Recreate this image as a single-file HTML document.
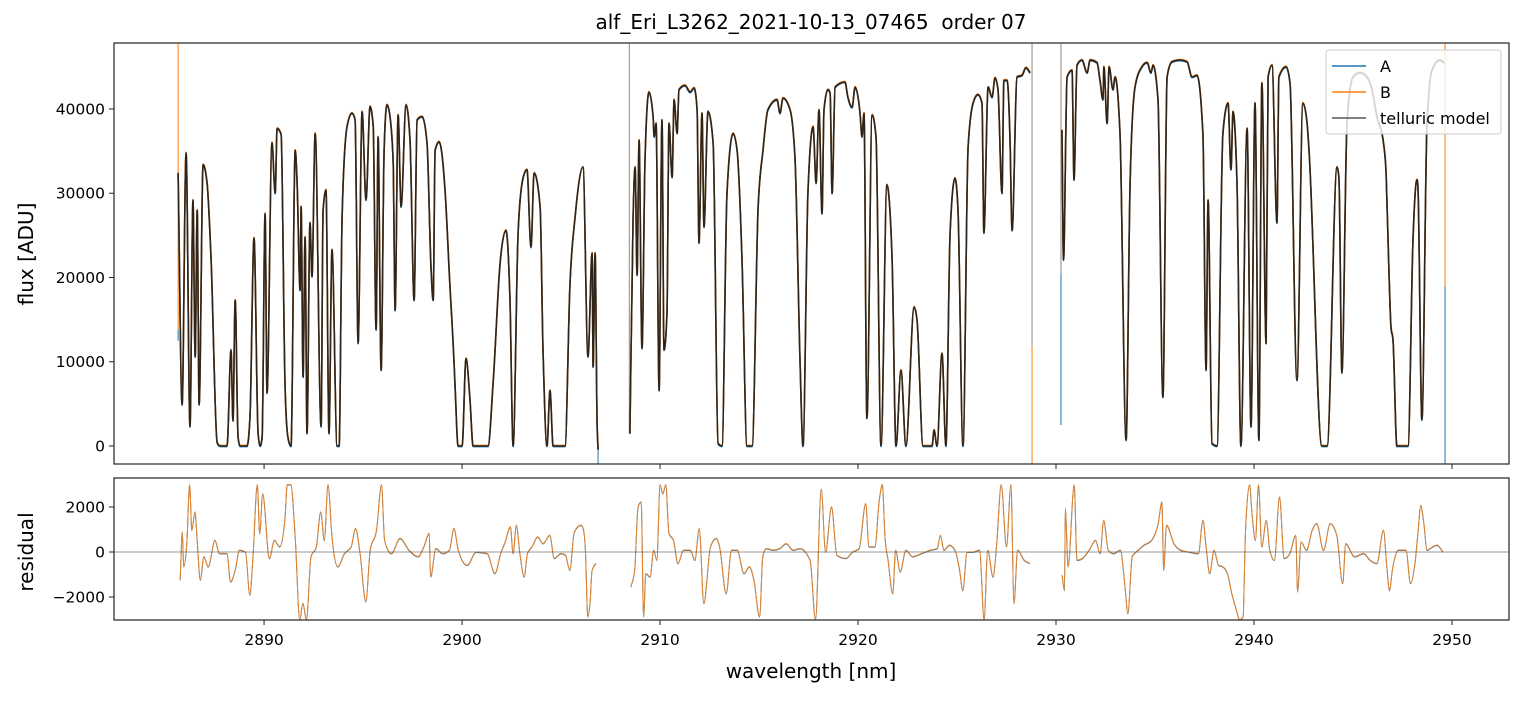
<!DOCTYPE html>
<html><head><meta charset="utf-8"><style>
body{margin:0;background:#fff;}
svg text{font-family:"DejaVu Sans","Liberation Sans",sans-serif;white-space:pre;fill:#000;}
</style></head><body>
<svg id="chart" width="1523" height="696" xmlns="http://www.w3.org/2000/svg">
<defs>
<clipPath id="clipTop"><rect x="114" y="43" width="1395" height="421"/></clipPath>
<clipPath id="clipBot"><rect x="114" y="478" width="1395" height="142"/></clipPath>
</defs>
<rect width="1523" height="696" fill="#fff"/>
<text x="811" y="29" font-size="20" text-anchor="middle" xml:space="preserve">alf_Eri_L3262_2021-10-13_07465  order 07</text>
<g id="topPlot"></g>
<g id="botPlot"></g>
<text transform="translate(33,254) rotate(-90)" font-size="20" text-anchor="middle">flux [ADU]</text>
<text transform="translate(33,552) rotate(-90)" font-size="20" text-anchor="middle">residual</text>
<text x="811" y="678" font-size="20" text-anchor="middle">wavelength [nm]</text>
<g>
<rect x="1326" y="50" width="175" height="84" rx="3" fill="#fff" fill-opacity="0.8" stroke="#ccc"/>
<g><line x1="1332" y1="66" x2="1366" y2="66" stroke="#1f77b4" stroke-width="1.5"/><text x="1380" y="72" font-size="16">A</text></g>
<g><line x1="1332" y1="92" x2="1366" y2="92" stroke="#ff7f0e" stroke-width="1.5"/><text x="1380" y="98" font-size="16">B</text></g>
<g><line x1="1332" y1="118" x2="1366" y2="118" stroke="#555" stroke-width="1.5"/><text x="1380" y="124" font-size="16">telluric model</text></g>
</g>
</svg>
<script>
const wl=[2885.66,2885.86,2886.06,2886.26,2886.41,2886.52,2886.62,2886.72,2886.92,2887.12,2887.32,2887.63,2887.78,2888.13,2888.33,2888.43,2888.54,2888.69,2888.79,2889.14,2889.29,2889.49,2889.70,2889.80,2889.90,2890.05,2890.15,2890.40,2890.56,2890.66,2890.86,2891.06,2891.21,2891.36,2891.57,2891.67,2891.82,2891.87,2891.97,2892.07,2892.17,2892.32,2892.42,2892.58,2892.88,2892.98,2893.13,2893.28,2893.43,2893.69,2893.79,2893.94,2894.19,2894.44,2894.60,2894.75,2894.95,2895.15,2895.35,2895.51,2895.66,2895.76,2895.91,2896.06,2896.21,2896.36,2896.52,2896.62,2896.77,2896.92,2897.17,2897.37,2897.58,2897.73,2897.98,2898.23,2898.43,2898.54,2898.64,2898.84,2899.14,2899.39,2899.55,2899.65,2899.80,2900.00,2900.20,2900.40,2900.56,2901.31,2901.57,2901.92,2902.22,2902.42,2902.58,2902.83,2903.08,2903.28,2903.48,2903.64,2903.94,2904.09,2904.29,2904.44,2904.60,2905.20,2905.45,2905.71,2906.11,2906.36,2906.57,2906.62,2906.72,2906.82,2906.87,null,
2908.48,2908.64,2908.74,2908.84,2908.94,2909.09,2909.24,2909.44,2909.65,2909.70,2909.80,2909.95,2910.10,2910.20,2910.35,2910.45,2910.61,2910.71,2910.86,2910.96,2911.26,2911.52,2911.72,2911.87,2911.97,2912.12,2912.22,2912.42,2912.68,2912.93,2913.13,2913.38,2913.69,2913.89,2914.14,2914.39,2914.65,2914.95,2915.20,2915.45,2915.91,2916.06,2916.21,2916.57,2916.82,2917.07,2917.22,2917.47,2917.73,2917.88,2918.03,2918.18,2918.28,2918.48,2918.59,2918.69,2918.84,2919.34,2919.49,2919.70,2919.85,2920.10,2920.20,2920.30,2920.45,2920.71,2920.91,2921.16,2921.46,2921.72,2921.92,2922.17,2922.42,2922.83,2922.98,2923.28,2923.74,2923.84,2923.99,2924.24,2924.44,2924.65,2924.90,2925.05,2925.30,2925.56,2925.81,2926.06,2926.26,2926.36,2926.57,2926.77,2926.92,2927.07,2927.27,2927.37,2927.53,2927.68,2927.78,2928.03,2928.28,2928.48,2928.69,null,
2930.30,2930.38,2930.56,2930.81,2930.91,2931.06,2931.31,2931.57,2931.72,2932.07,2932.22,2932.37,2932.42,2932.58,2932.68,2932.88,2932.98,2933.23,2933.54,2933.74,2933.99,2934.34,2934.60,2934.80,2934.90,2935.15,2935.40,2935.61,2935.86,2936.26,2936.62,2936.87,2937.12,2937.42,2937.58,2937.68,2937.88,2938.13,2938.43,2938.69,2938.84,2938.94,2939.14,2939.34,2939.65,2939.85,2940.05,2940.25,2940.40,2940.61,2940.71,2940.91,2941.16,2941.26,2941.62,2941.82,2942.17,2942.47,2942.68,2942.78,2943.43,2943.69,2944.19,2944.29,2944.44,2944.70,2945.00,2945.35,2945.71,2945.96,2946.21,2946.52,2946.67,2946.82,2946.92,2947.02,2947.22,2947.78,2948.03,2948.23,2948.28,2948.48,2948.74,2948.99,2949.39,2949.60];
const flux=[32400,4900,34800,2300,29200,10600,28000,4900,33400,31200,22400,400,0,0,11400,3000,17300,1000,0,0,3500,24700,1500,0,1000,27600,6300,36000,30000,37700,37000,7000,1000,0,35100,31200,18500,28400,8200,24800,1500,26500,20100,37100,2300,28000,30400,1500,23300,0,0,27200,37900,39500,38700,12200,39700,29200,40300,38000,13800,36700,9000,35000,40500,39100,33600,16100,39300,28400,40500,36300,17300,38700,39100,36000,21200,17300,35100,36100,30400,18900,12200,7000,0,0,10400,5500,0,0,7500,21700,25600,17300,0,25300,31800,32800,23600,32400,28400,11400,0,6600,0,0,19300,27200,33100,10600,22900,9400,22900,2700,-400,null,
1500,27200,33100,20300,36300,11600,33900,42000,39100,36700,38300,6600,38700,11400,15800,38300,31900,41100,37100,42300,42800,42000,42500,39900,24100,39500,26000,39700,36000,300,0,30000,37100,35100,22100,0,0,28000,35100,39900,41100,39500,41300,39900,33900,10200,0,30000,37900,31200,39900,27600,39900,42300,41900,30000,42600,43200,41400,40200,42600,39500,36700,39500,3300,39300,36700,0,31000,22100,0,9000,0,16500,15000,0,0,1900,0,11000,0,25300,31800,28000,0,35500,40700,41700,40700,25300,42600,41400,43700,42300,30000,43400,43400,36000,25600,43800,44000,44900,44300,null,
37500,22100,43800,44600,31600,45200,45800,44300,45800,45500,43400,41100,45000,38300,45000,42300,43800,37100,700,31200,42600,45000,45500,44300,45200,41100,5800,43800,45600,45800,45600,43800,44000,37100,9000,29200,300,0,37100,40700,32800,39700,31200,0,37700,2300,40700,700,43100,12200,43800,45200,26500,43800,45000,43100,7800,40700,38300,35100,0,0,33100,31900,8700,38300,43800,44300,43800,42300,39100,36300,32400,20500,14100,12600,0,0,24500,31600,30800,3100,38300,44600,45800,45500];
const residWl=[2885.76,2885.87,2885.94,2886.10,2886.24,2886.35,2886.51,2886.62,2886.78,2886.96,2887.18,2887.52,2887.75,2888.13,2888.31,2888.54,2888.76,2889.06,2889.28,2889.44,2889.66,2889.78,2889.93,2890.27,2890.52,2890.79,2891.06,2891.17,2891.35,2891.58,2891.80,2891.96,2892.14,2892.37,2892.64,2892.86,2893.04,2893.23,2893.43,2893.72,2894.06,2894.40,2894.62,2894.85,2895.14,2895.36,2895.68,2895.93,2896.09,2896.43,2896.87,2897.32,2897.78,2898.07,2898.34,2898.41,2898.68,2899.02,2899.36,2899.59,2899.81,2900.26,2900.71,2901.27,2901.66,2901.95,2902.18,2902.44,2902.58,2902.74,2902.92,2903.14,2903.30,2903.53,2903.82,2904.09,2904.43,2904.66,2904.99,2905.22,2905.44,2905.67,2906.01,2906.12,2906.23,2906.35,2906.46,2906.57,2906.75,null,
2908.53,2908.72,2908.89,2909.05,2909.17,2909.28,2909.50,2909.68,2909.84,2910.00,2910.14,2910.29,2910.45,2910.68,2910.90,2911.19,2911.53,2911.76,2911.98,2912.21,2912.55,2912.84,2913.01,2913.34,2913.61,2913.90,2914.24,2914.51,2914.74,2915.03,2915.19,2915.37,2915.71,2916.04,2916.38,2916.72,2917.06,2917.58,2917.85,2918.14,2918.36,2918.66,2918.93,2919.38,2919.72,2920.05,2920.39,2920.55,2920.85,2921.07,2921.23,2921.36,2921.52,2921.75,2921.90,2922.13,2922.42,2922.76,2923.21,2923.66,2924.00,2924.16,2924.34,2924.61,2924.90,2925.13,2925.29,2925.51,2925.80,2926.14,2926.37,2926.55,2926.82,2927.00,2927.23,2927.50,2927.72,2927.88,2928.06,2928.40,2928.67,null,
2930.31,2930.43,2930.47,2930.61,2930.92,2931.06,2931.33,2931.67,2932.00,2932.23,2932.41,2932.64,2932.91,2933.25,2933.47,2933.63,2933.85,2934.15,2934.44,2934.83,2935.16,2935.35,2935.44,2935.58,2935.96,2936.30,2936.75,2937.19,2937.42,2937.58,2937.76,2937.98,2938.21,2938.43,2938.66,2938.88,2939.11,2939.27,2939.45,2939.56,2939.78,2939.90,2940.07,2940.23,2940.39,2940.62,2940.80,2941.03,2941.29,2941.52,2941.81,2942.11,2942.20,2942.38,2942.65,2942.94,2943.17,2943.51,2943.85,2944.18,2944.48,2944.63,2945.08,2945.54,2945.87,2946.21,2946.54,2946.71,2946.84,2947.00,2947.29,2947.68,2947.90,2948.13,2948.28,2948.42,2948.58,2948.74,2949.03,2949.25,2949.55];
const resid=[-1240,900,-650,460,3000,980,1790,530,-1240,-200,-650,530,-60,-60,-1320,-800,90,0,-1900,-200,3000,830,2600,-280,530,240,1570,3000,3000,530,-3000,-2280,-3000,-200,240,1790,530,3000,680,-650,-60,240,1050,-60,-2200,90,980,3000,530,-60,610,90,-200,240,830,-1100,160,-60,90,1050,90,-580,0,-60,-950,-60,460,1120,-60,1200,-60,-1100,-60,240,680,380,750,-280,-60,-130,-800,900,1200,1050,90,-2870,-2280,-800,-500,null,
-1540,-800,2010,2230,-2870,-950,-1100,90,-360,3000,2600,3000,830,530,-500,90,90,-360,1050,-2280,240,610,240,-1840,90,90,-950,-650,-1240,-2870,-200,160,90,160,380,90,160,-360,-3000,2800,0,2010,-130,-280,0,160,2160,240,240,2300,3000,680,-360,-1840,90,-870,90,-200,-60,90,160,750,90,310,90,-800,-1700,0,0,90,-3000,90,-1100,310,3000,240,3000,-2280,90,-360,-500,null,
-1020,-1700,1940,-650,3000,-360,-280,90,530,-60,1420,90,-60,90,-1390,-2720,-200,90,310,530,1270,2230,-800,1200,380,90,0,-60,1420,240,-950,90,-580,-650,-950,-1840,-2570,-3000,-2870,680,3000,1720,530,3000,240,1420,90,-360,2460,-280,-60,750,-1760,460,90,980,1270,90,1270,750,-1390,380,-200,-60,-360,-500,980,-650,-1700,-720,90,90,-1390,-500,830,2080,1270,90,240,310,0];
// isolated vertical features: wavelength, top flux, bottom flux, series
const spikeWl=[2885.66,2885.66,2906.87,2908.45,2928.79,2928.79,2930.25,2930.25,2949.65,2949.65];
const spikeTop=[47830,13800,-400,47830,47830,11800,47830,20500,47830,18900];
const spikeBot=[13800,12500,-2136,1500,11800,-2136,20500,2500,18900,-2136];
const spikeSeries=['B','A','A','M','M','B','M','A','B','A'];
const xTicks=[2890,2900,2910,2920,2930,2940,2950];
const yTicksTop=[0,10000,20000,30000,40000];
const yTicksBot=[-2000,0,2000];

const NS='http://www.w3.org/2000/svg';
const L=114,R=1509,T1=43,B1=464,T2=478,B2=620;
const X0=2882.42,X1=2952.88,Y0=-2136,Y1=47830,R0=-3022,R1=3289;
const sx=w=>L+(w-X0)/(X1-X0)*(R-L);
const sy=v=>B1-(v-Y0)/(Y1-Y0)*(B1-T1);
const sr=v=>B2-(v-R0)/(R1-R0)*(B2-T2);
function mk(tag,attrs,parent){const e=document.createElementNS(NS,tag);for(const k in attrs)e.setAttribute(k,attrs[k]);parent.appendChild(e);return e;}
function seg(pts){
 const n=pts.length;if(n<2)return '';
 const m=new Array(n).fill(0);
 const s=[];for(let i=0;i<n-1;i++){const h=pts[i+1][0]-pts[i][0];s.push(h?(pts[i+1][1]-pts[i][1])/h:0);}
 m[0]=s[0];m[n-1]=s[n-2];
 for(let i=1;i<n-1;i++){const h0=pts[i][0]-pts[i-1][0],h1=pts[i+1][0]-pts[i][0];const p=(s[i-1]*h1+s[i]*h0)/(h0+h1);
  m[i]=(Math.sign(s[i-1])+Math.sign(s[i]))*Math.min(Math.abs(s[i-1]),Math.abs(s[i]),0.5*Math.abs(p))||0;}
 let d='M'+pts[0][0].toFixed(1)+','+pts[0][1].toFixed(1);
 for(let i=0;i<n-1;i++){const dx=(pts[i+1][0]-pts[i][0])/3;
  d+='C'+(pts[i][0]+dx).toFixed(1)+','+(pts[i][1]+dx*m[i]).toFixed(1)+' '+(pts[i+1][0]-dx).toFixed(1)+','+(pts[i+1][1]-dx*m[i+1]).toFixed(1)+' '+pts[i+1][0].toFixed(1)+','+pts[i+1][1].toFixed(1);}
 return d;
}
function pathD(xs,ys,fy){let d='',cur=[];for(let i=0;i<=xs.length;i++){if(i===xs.length||xs[i]==null||ys[i]==null){d+=seg(cur);cur=[];continue;}cur.push([sx(xs[i]),fy(ys[i])]);}return d;}
const topG=document.getElementById('topPlot'),botG=document.getElementById('botPlot');
const gT=mk('g',{'clip-path':'url(#clipTop)'},topG);
const colors={A:'#1f77b4',B:'#ff7f0e',M:'#9a8878'};
for(let i=0;i<spikeWl.length;i++){
 const ln=mk('line',{x1:sx(spikeWl[i]),x2:sx(spikeWl[i]),y1:sy(spikeTop[i]),y2:sy(spikeBot[i]),stroke:colors[spikeSeries[i]],'stroke-width':1.2,'stroke-opacity':0.85},gT);
 
 
}
const fd=pathD(wl,flux,sy);
const pA=mk('path',{d:fd,fill:'none',stroke:'#1f77b4','stroke-width':1.6,transform:'translate(0,0.6)'},gT);


const pB=mk('path',{d:fd,fill:'none',stroke:'#ff7f0e','stroke-width':1.6,transform:'translate(0,-0.6)'},gT);


const pM=mk('path',{d:fd,fill:'none',stroke:'#1a1a1a','stroke-width':1.6,'stroke-opacity':0.9},gT);


mk('rect',{x:L,y:T1,width:R-L,height:B1-T1,fill:'none',stroke:'#222','stroke-width':1.2},topG);
const gB=mk('g',{'clip-path':'url(#clipBot)'},botG);
const rd=pathD(residWl,resid,sr);
const rA=mk('path',{d:rd,fill:'none',stroke:'#1f77b4','stroke-width':1,transform:'translate(0,0.5)'},gB);


const rB=mk('path',{d:rd,fill:'none',stroke:'#e8842a','stroke-width':1},gB);


const zl=mk('line',{x1:L,x2:R,y1:sr(0),y2:sr(0),stroke:'#555','stroke-width':0.8,'stroke-opacity':0.8},gB);


mk('rect',{x:L,y:T2,width:R-L,height:B2-T2,fill:'none',stroke:'#222','stroke-width':1.2},botG);
xTicks.forEach(t=>{const x=sx(t);
 mk('line',{x1:x,x2:x,y1:B1,y2:B1+5,stroke:'#222'},topG);
 mk('line',{x1:x,x2:x,y1:B2,y2:B2+5,stroke:'#222'},botG);
 const tx=mk('text',{x:x,y:B2+25,'font-size':15.5,'text-anchor':'middle'},botG);tx.textContent=t;
 
 
});
yTicksTop.forEach(t=>{const y=sy(t);
 mk('line',{x1:L-5,x2:L,y1:y,y2:y,stroke:'#222'},topG);
 const tx=mk('text',{x:L-9,y:y+5.5,'font-size':15.5,'text-anchor':'end'},topG);tx.textContent=t;
 
 
});
yTicksBot.forEach(t=>{const y=sr(t);
 mk('line',{x1:L-5,x2:L,y1:y,y2:y,stroke:'#222'},botG);
 const tx=mk('text',{x:L-9,y:y+5.5,'font-size':15.5,'text-anchor':'end'},botG);tx.textContent=(t<0?'\u2212'+(-t):t);
 
 
});
</script>
</body></html>
